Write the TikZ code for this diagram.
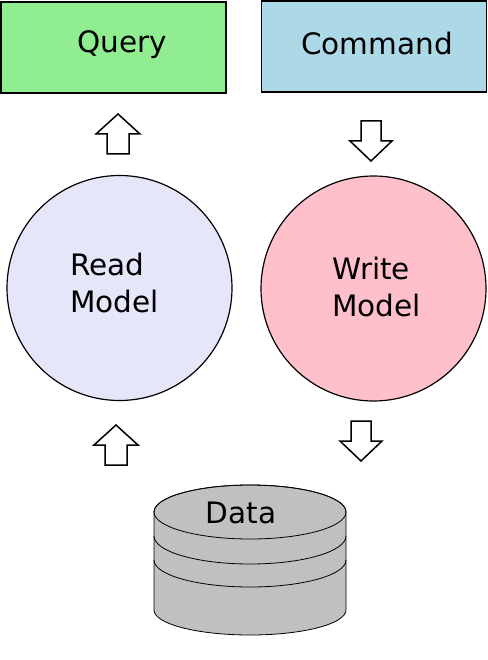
\documentclass[tikz,border=0pt]{standalone}
\usepackage{fontspec}
\setmainfont{DejaVu Sans}
\usepackage{xcolor}
\usetikzlibrary{positioning}

\definecolor{querygreen}{HTML}{90EE90}
\definecolor{commandblue}{HTML}{ADD8E6}
\definecolor{readlavender}{HTML}{E6E6FA}
\definecolor{writepink}{HTML}{FFC0CB}
\definecolor{datagray}{HTML}{C0C0C0}

\tikzset{
    box/.style={draw, line width=1.2pt, minimum width=225pt, minimum height=91pt, inner sep=0pt},
    model/.style={circle, draw, line width=1.2pt, minimum size=225pt, inner sep=0pt},
    txt/.style={inner sep=0pt, font=\fontsize{29.5}{37}\selectfont},
    blockarrow/.style={draw, line width=1.5pt, fill=white, line join=miter},
    uparrow/.pic={\draw[blockarrow] (-11,20) -- (-11,0) -- (-22,0) -- (0,-20) -- (22,0) -- (11,0) -- (11,20) -- cycle;},
    downarrow/.pic={\draw[blockarrow] (-10,-20) -- (-10,0) -- (-21,0) -- (0,20) -- (21,0) -- (10,0) -- (10,-20) -- cycle;}
}

\begin{document}
\begin{tikzpicture}[x=1pt, y=-1pt]
    \useasboundingbox (0,0) rectangle (487,660);

    % top row
    \node[box, fill=querygreen] (query) at (113.5,47.5) {};
    \node[txt, anchor=base west] (querytext) at (77.5,53) {Query};
    \node[box, fill=commandblue] (command) at (374,46.5) {};
    \node[txt, anchor=base west] (commandtext) at (301,55) {Command};

    % models
    \node[model, fill=readlavender] (read) at (119.5,288) {};
    \node[txt, anchor=west, align=left] (readtext) at (70,283.5) {Read\\Model};
    \node[model, fill=writepink] (write) at (373.5,288.5) {};
    \node[txt, anchor=west, align=left] (writetext) at (332,287.5) {Write\\Model};

    % block arrows
    \pic at (118,134) {uparrow};
    \pic at (371,141) {downarrow};
    \pic at (116,445) {uparrow};
    \pic at (361,441) {downarrow};

    % data store
    \filldraw[fill=datagray, line width=0.8pt] (154,512) -- (154,610)
        arc[start angle=180, end angle=0, x radius=96, y radius=25] -- (346,512)
        arc[start angle=0, end angle=-180, x radius=96, y radius=27] -- cycle;
    \draw[line width=0.8pt] (250,512) ellipse[x radius=96, y radius=27];
    \draw[line width=0.8pt] (154,536) arc[start angle=180, end angle=0, x radius=96, y radius=28];
    \draw[line width=0.8pt] (154,560) arc[start angle=180, end angle=0, x radius=96, y radius=27];
    \node[txt, anchor=base west] (data) at (205.5,523) {Data};
\end{tikzpicture}
\end{document}
